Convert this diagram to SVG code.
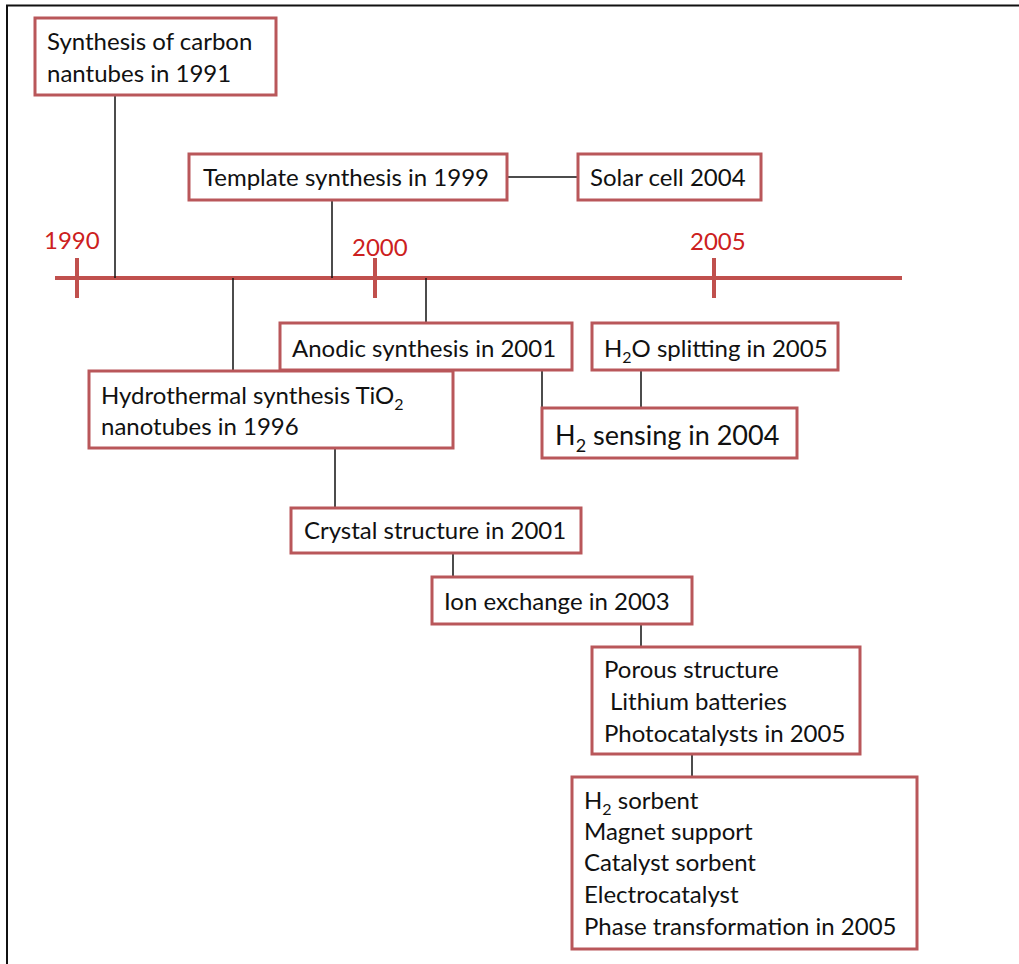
<svg xmlns="http://www.w3.org/2000/svg" width="1019" height="964" viewBox="0 0 1019 964">
<style>
.box{fill:#fff;stroke:#b9575a;stroke-width:3}
.t{font-family:Lato,"Liberation Sans",sans-serif;font-size:24px;fill:#111}
.yr{font-family:Lato,"Liberation Sans",sans-serif;font-size:24px;fill:#cc2020}
.c{stroke:#111;stroke-width:1.5;fill:none}
.tl{stroke:#c0504d;stroke-width:4;fill:none}
.sub{font-size:16px}
</style>
<rect x="0" y="0" width="1019" height="964" fill="#fff"/>
<path d="M7 964 V5.5 H1019" fill="none" stroke="#111" stroke-width="2"/>
<g id="timeline">
<line class="tl" x1="55" y1="278" x2="902" y2="278"/>
<line class="tl" x1="77" y1="258" x2="77" y2="298"/>
<line class="tl" x1="375" y1="258" x2="375" y2="298"/>
<line class="tl" x1="714" y1="258" x2="714" y2="298"/>
<text class="yr" x="44" y="249">1990</text>
<text class="yr" x="352" y="256">2000</text>
<text class="yr" x="690" y="250">2005</text>
</g>
<g id="connectors">
<line class="c" x1="115" y1="95" x2="115" y2="278"/>
<line class="c" x1="332" y1="200" x2="332" y2="278"/>
<line class="c" x1="507" y1="177" x2="578" y2="177"/>
<line class="c" x1="233" y1="278" x2="233" y2="371"/>
<line class="c" x1="426" y1="278" x2="426" y2="323"/>
<line class="c" x1="542" y1="370" x2="542" y2="408"/>
<line class="c" x1="641" y1="370" x2="641" y2="408"/>
<line class="c" x1="335" y1="448" x2="335" y2="508"/>
<line class="c" x1="453" y1="553" x2="453" y2="577"/>
<line class="c" x1="641" y1="624" x2="641" y2="647"/>
<line class="c" x1="692" y1="754" x2="692" y2="777"/>
</g>
<g id="n1991">
<rect class="box" x="35" y="18" width="241" height="77"/>
<text class="t" x="47" y="50">Synthesis of carbon</text>
<text class="t" x="47" y="82">nantubes in 1991</text>
</g>
<g id="n1999">
<rect class="box" x="189" y="154" width="318" height="46"/>
<text class="t" x="203" y="186">Template synthesis in 1999</text>
</g>
<g id="solar">
<rect class="box" x="578" y="154" width="183" height="46"/>
<text class="t" x="590" y="186">Solar cell 2004</text>
</g>
<g id="anodic">
<rect class="box" x="280" y="323" width="292" height="47"/>
<text class="t" x="292" y="357">Anodic synthesis in 2001</text>
</g>
<g id="h2o">
<rect class="box" x="592" y="323" width="246" height="47"/>
<text class="t" x="604" y="357">H<tspan class="sub" dy="6">2</tspan><tspan dy="-6">O splitting in 2005</tspan></text>
</g>
<g id="hydro">
<rect class="box" x="89" y="371" width="364" height="77"/>
<text class="t" x="101" y="404">Hydrothermal synthesis TiO<tspan class="sub" dy="6">2</tspan></text>
<text class="t" x="101" y="435">nanotubes in 1996</text>
</g>
<g id="h2sens">
<rect class="box" x="542" y="408" width="255" height="50"/>
<text class="t" x="555" y="445" style="font-size:27px">H<tspan style="font-size:18px" dy="7">2</tspan><tspan dy="-7"> sensing in 2004</tspan></text>
</g>
<g id="crystal">
<rect class="box" x="291" y="508" width="290" height="45"/>
<text class="t" x="304" y="539">Crystal structure in 2001</text>
</g>
<g id="ion">
<rect class="box" x="432" y="577" width="260" height="47"/>
<text class="t" x="444" y="610">Ion exchange in 2003</text>
</g>
<g id="porous">
<rect class="box" x="592" y="647" width="268" height="107"/>
<text class="t" x="604" y="678">Porous structure</text>
<text class="t" x="610" y="710">Lithium batteries</text>
<text class="t" x="604" y="742">Photocatalysts in 2005</text>
</g>
<g id="apps">
<rect class="box" x="572" y="777" width="345" height="172"/>
<text class="t" x="584" y="809">H<tspan class="sub" dy="6">2</tspan><tspan dy="-6"> sorbent</tspan></text>
<text class="t" x="584" y="840">Magnet support</text>
<text class="t" x="584" y="871">Catalyst sorbent</text>
<text class="t" x="584" y="903">Electrocatalyst</text>
<text class="t" x="584" y="935">Phase transformation in 2005</text>
</g>
</svg>
